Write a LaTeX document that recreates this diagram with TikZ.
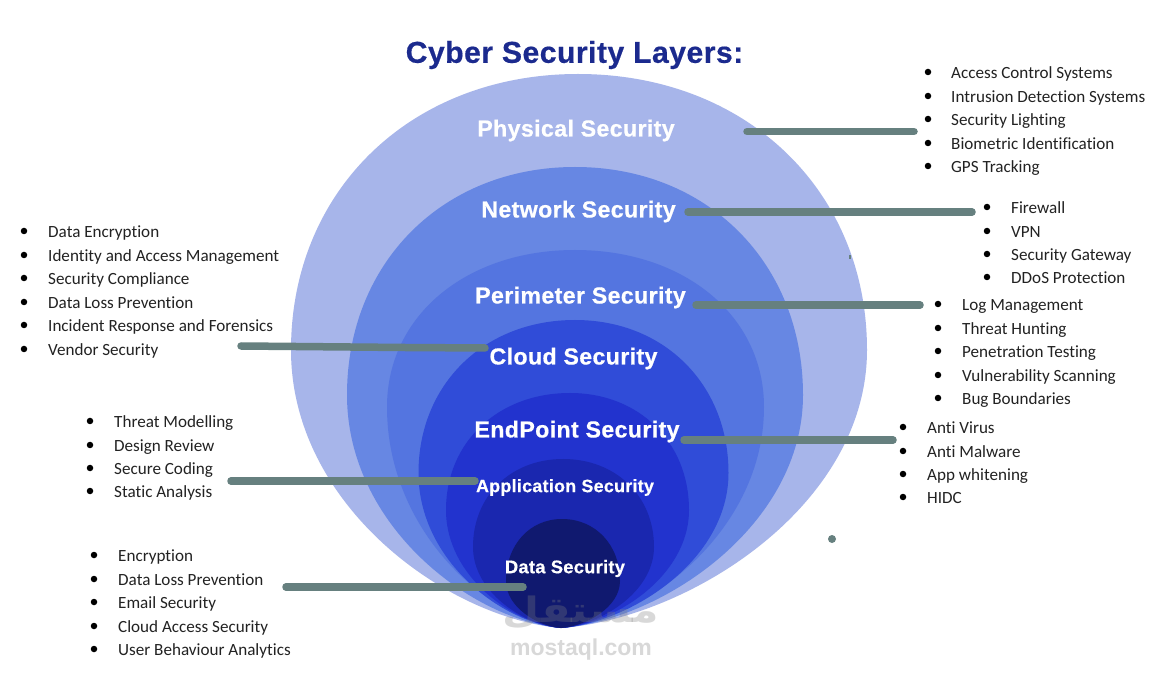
\documentclass[tikz,border=0pt]{standalone}
\usepackage{fontspec}
\setmainfont[Ligatures=NoCommon]{Carlito}
\newfontfamily\headfont[LetterSpace=1.5,FakeBold=0.5]{Liberation Sans Bold}
\newfontfamily\arabicfont[Script=Arabic]{DejaVu Sans}
\TeXXeTstate=1
\definecolor{lay1}{HTML}{A7B5EA}
\definecolor{lay2}{HTML}{6787E3}
\definecolor{lay3}{HTML}{5475E0}
\definecolor{lay4}{HTML}{304CD8}
\definecolor{lay5}{HTML}{2233CE}
\definecolor{lay6}{HTML}{1A27AF}
\definecolor{lay7}{HTML}{10196F}
\definecolor{titleblue}{HTML}{1B2A8E}
\definecolor{linkgrey}{HTML}{66807F}
\definecolor{ink}{HTML}{222222}
\tikzset{
  layerlabel/.style={text=white,inner sep=0pt,anchor=center},
  listitem/.style={text=ink,font=\fontsize{17.1}{19}\selectfont,inner sep=0pt,anchor=base west},
  bulletdot/.style={circle,fill=black,inner sep=0pt,minimum size=6.5pt},
  linkbar/.style={draw=linkgrey,line width=7.5pt,line cap=round},
  watermark/.style={text=gray,opacity=.3,inner sep=0pt}
}
% left, right, y of widest, top y, top x, colour
\newcommand{\eggshape}[6]{%
  \fill[#6] (#1,#3)
    .. controls (#1,{#3-0.58*(#3-#4)}) and ({#5-0.58*(#5-#1)},#4) .. (#5,#4)
    .. controls ({#5+0.58*(#2-#5)},#4) and (#2,{#3-0.58*(#3-#4)}) .. (#2,#3)
    .. controls (#2,{#3+0.56*(628-#3)}) and ({561+0.42*(#2-561)},{628-0.035*(628-#3)}) .. (561,628)
    .. controls ({561-0.42*(561-#1)},{628-0.035*(628-#3)}) and (#1,{#3+0.56*(628-#3)}) .. (#1,#3) -- cycle;}
% id, bullet x, text x, list of y/text
\newcommand{\itemlist}[4]{%
  \foreach \yy/\tt [count=\ii] in {#4} {
    \node[bulletdot] (#1b\ii) at (#2,\yy) {};
    \node[listitem] (#1t\ii) at (#3,\yy+6.7) {\tt};
  }}
\begin{document}
\begin{tikzpicture}[x=1pt,y=-1pt]
\useasboundingbox (0,0) rectangle (1163,676);
\fill[white] (0,0) rectangle (1163,676);
\eggshape{291}{867}{350}{74}{578}{lay1}
\eggshape{347}{803}{395}{167}{575}{lay2}
\eggshape{387}{764}{407}{250}{575}{lay3}
\eggshape{418.5}{728.5}{473}{320}{575}{lay4}
\eggshape{446}{689}{510}{393}{570}{lay5}
\eggshape{473}{654}{547}{459}{563}{lay6}
\eggshape{506}{620}{581}{519}{562}{lay7}

\node[inner sep=0pt,text=titleblue,font=\fontsize{30.2}{33}\headfont] (title) at (574.5,55) {Cyber Security Layers:};

\node[layerlabel,font=\fontsize{23.2}{25}\headfont] (physical) at (576,130.5) {Physical Security};
\node[layerlabel,font=\fontsize{23.2}{25}\headfont] (network) at (578.5,211.5) {Network Security};
\node[layerlabel,font=\fontsize{23.2}{25}\headfont] (perimeter) at (580.5,297.5) {Perimeter Security};
\node[layerlabel,font=\fontsize{23.2}{25}\headfont] (cloud) at (573.5,358.5) {Cloud Security};
\node[layerlabel,font=\fontsize{23.2}{25}\headfont] (endpoint) at (577,431.5) {EndPoint Security};
\node[layerlabel,font=\fontsize{17.9}{20}\headfont] (application) at (565,487.5) {Application Security};
\node[layerlabel,font=\fontsize{18.3}{20}\headfont] (data) at (565,568.5) {Data Security};

\coordinate (l1a) at (747,131.5); \coordinate (l1b) at (914,131.5);
\coordinate (l2a) at (688,212); \coordinate (l2b) at (972,212);
\coordinate (l3a) at (696,305); \coordinate (l3b) at (920,305);
\coordinate (l4a) at (241,346); \coordinate (l4m) at (405,347.5); \coordinate (l4b) at (485,348);
\coordinate (l5a) at (684,440); \coordinate (l5b) at (893,440);
\coordinate (l6a) at (231,481); \coordinate (l6b) at (475,481);
\coordinate (l7a) at (286,587); \coordinate (l7b) at (523,587);
\draw[linkbar] (l1a) -- (l1b);
\draw[linkbar] (l2a) -- (l2b);
\draw[linkbar] (l3a) -- (l3b);
\draw[linkbar] (l4a) -- (l4m) -- (l4b);
\draw[linkbar] (l5a) -- (l5b);
\draw[linkbar] (l6a) -- (l6b);
\draw[linkbar] (l7a) -- (l7b);
\fill[linkgrey] (832,539) circle (4);
\fill[linkgrey] (848.5,255) rectangle (850.5,259);

\itemlist{a}{928}{951}{72/Access Control Systems,96/Intrusion Detection Systems,119/Security Lighting,143/Biometric Identification,166/GPS Tracking}
\itemlist{b}{987}{1011}{207/Firewall,231/VPN,254/Security Gateway,277/DDoS Protection}
\itemlist{c}{938}{962}{304/Log Management,328/Threat Hunting,351/Penetration Testing,375/Vulnerability Scanning,398/Bug Boundaries}
\itemlist{d}{903}{927}{427/Anti Virus,451/Anti Malware,474/App whitening,497/HIDC}
\itemlist{e}{24}{48}{231/Data Encryption,255/Identity and Access Management,278/Security Compliance,302/Data Loss Prevention,325/Incident Response and Forensics,349/Vendor Security}
\itemlist{f}{90}{114}{421/Threat Modelling,445/Design Review,468/Secure Coding,491/Static Analysis}
\itemlist{g}{94}{118}{555/Encryption,579/Data Loss Prevention,602/Email Security,626/Cloud Access Security,649/User Behaviour Analytics}

\node[watermark,xscale=1.22,font=\fontsize{35}{38}\arabicfont\bfseries] (wmlogo) at (581,612) {\beginR مستقل\endR};
\node[watermark,font=\fontsize{23}{26}\fontspec{Liberation Sans Bold}] (wmtext) at (581,650) {mostaql.com};
\end{tikzpicture}
\end{document}
